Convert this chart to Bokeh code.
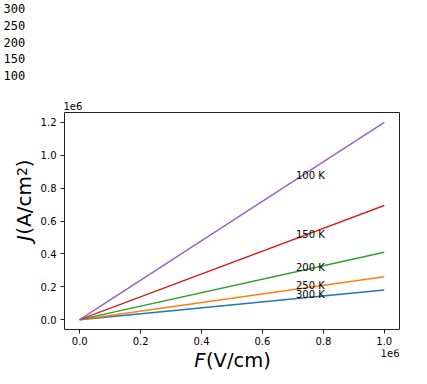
import numpy as np
from bokeh.plotting import figure
from bokeh.models import Label, FixedTicker, CustomJSTickFormatter
from bokeh.layouts import column, row
from bokeh.embed import file_html
from bokeh.resources import INLINE

# ---- data ----
temps = [300, 250, 200, 150, 100]            # K, in plotting (and printing) order
F = [0.0, 1.0e6]                             # V/cm
J_300K = [0.0, 0.181e6]                      # A/cm^2
J_250K = [0.0, 0.261e6]
J_200K = [0.0, 0.410e6]
J_150K = [0.0, 0.694e6]
J_100K = [0.0, 1.200e6]
series = [J_300K, J_250K, J_200K, J_150K, J_100K]
x_ticks = [0, 0.2e6, 0.4e6, 0.6e6, 0.8e6, 1.0e6]
y_ticks = [0, 0.2e6, 0.4e6, 0.6e6, 0.8e6, 1.0e6, 1.2e6]
label_F = 0.71e6

colors = ["#1f77b4", "#ff7f0e", "#2ca02c", "#d62728", "#9467bd"]
FONT = "DejaVu Sans"
K = 0.4   # correction: rendered baseline sits ~0.4em below the anchor


def blank(w, h):
    f = figure(width=w, height=h, output_backend="svg", toolbar_location=None,
               x_axis_type=None, y_axis_type=None, min_border=0,
               x_range=(0, 1), y_range=(0, 1))
    f.outline_line_color = None
    f.grid.visible = False
    f.background_fill_color = "white"
    f.border_fill_color = "white"
    return f


def lab(fig, x, y, text, **kw):
    opts = dict(text_font=FONT, text_font_size="10px", text_color="black",
                text_align="left", text_baseline="alphabetic")
    opts.update(kw)
    fig.add_layout(Label(x=x, y=y, x_units="screen", y_units="screen", text=text, **opts))


# ---- top strip: printed temperatures + offset text ----
TOP_H = 112
top = blank(427, TOP_H)
for i, T in enumerate(temps):
    lab(top, 3, TOP_H - (12.75 - K * 12 + i * 16.8), str(T),
        text_font="DejaVu Sans Mono", text_font_size="12px")
lab(top, 63, TOP_H - (109 - K * 10), "1e6")

# ---- main plot ----
LEFT_W = 37
MAIN_H = 237
p = figure(width=427 - LEFT_W, height=MAIN_H, output_backend="svg", toolbar_location=None,
           x_range=(-0.05e6, 1.05e6), y_range=(-0.06e6, 1.26e6),
           min_border_left=64 - LEFT_W, min_border_right=28, min_border_top=0,
           min_border_bottom=20)
p.background_fill_color = "white"
p.border_fill_color = "white"
p.outline_line_color = "#222222"
p.outline_line_width = 1
p.xgrid.visible = False
p.ygrid.visible = False

fmt = CustomJSTickFormatter(code="return (tick/1e6).toFixed(1);")
for ax, ticks, so in ((p.xaxis[0], x_ticks, 3), (p.yaxis[0], y_ticks, 4)):
    ax.ticker = FixedTicker(ticks=ticks)
    ax.formatter = fmt
    ax.axis_line_color = None
    ax.major_tick_in = 0
    ax.major_tick_out = 4
    ax.major_tick_line_color = "#222222"
    ax.minor_tick_line_color = None
    ax.major_label_text_font = FONT
    ax.major_label_text_font_size = "10px"
    ax.major_label_text_color = "black"
    ax.major_label_standoff = so
    ax.axis_label = None

for T, J, c in zip(temps, series, colors):
    p.line(F, J, line_color=c, line_width=1.5)
    ly = float(np.interp(label_F, F, J))
    p.add_layout(Label(x=label_F, y=ly, y_offset=K * 10, text=f"{T} K", text_font=FONT,
                       text_font_size="10px", text_color="black",
                       text_align="left", text_baseline="alphabetic"))

# ---- left strip: y label  J(A/cm^2) ----
left = blank(LEFT_W, MAIN_H)
Y0 = TOP_H + MAIN_H      # page y of strip bottom
BL = 31.3 - K * 20       # baseline (page x), corrected
rot = np.pi / 2
lab(left, BL, Y0 - 254.7, "J", angle=rot, text_font_style="italic",
    text_font_size="20px", text_align="right")
lab(left, BL, Y0 - 254.2, "(A/cm", angle=rot, text_font_size="20px")
lab(left, 27.3 - K * 14, Y0 - 195.6, "2", angle=rot, text_font_size="14px")
lab(left, BL, Y0 - 186.7, ")", angle=rot, text_font_size="20px")

# ---- bottom strip: x label + offset text ----
BOT_H = 35
bot = blank(427, BOT_H)
B0 = TOP_H + MAIN_H + BOT_H
lab(bot, 399, B0 - (356.7 - K * 10), "1e6", text_align="right")
lab(bot, 205.0, B0 - (367.3 - K * 19.5), "F", text_font_style="italic",
    text_font_size="19.5px", text_align="right")
lab(bot, 205.5, B0 - (367.3 - K * 19.5), "(V/cm)", text_font_size="19.5px")

layout = column(top, row(left, p), bot)
open("out.html", "w").write(file_html(layout, INLINE))
